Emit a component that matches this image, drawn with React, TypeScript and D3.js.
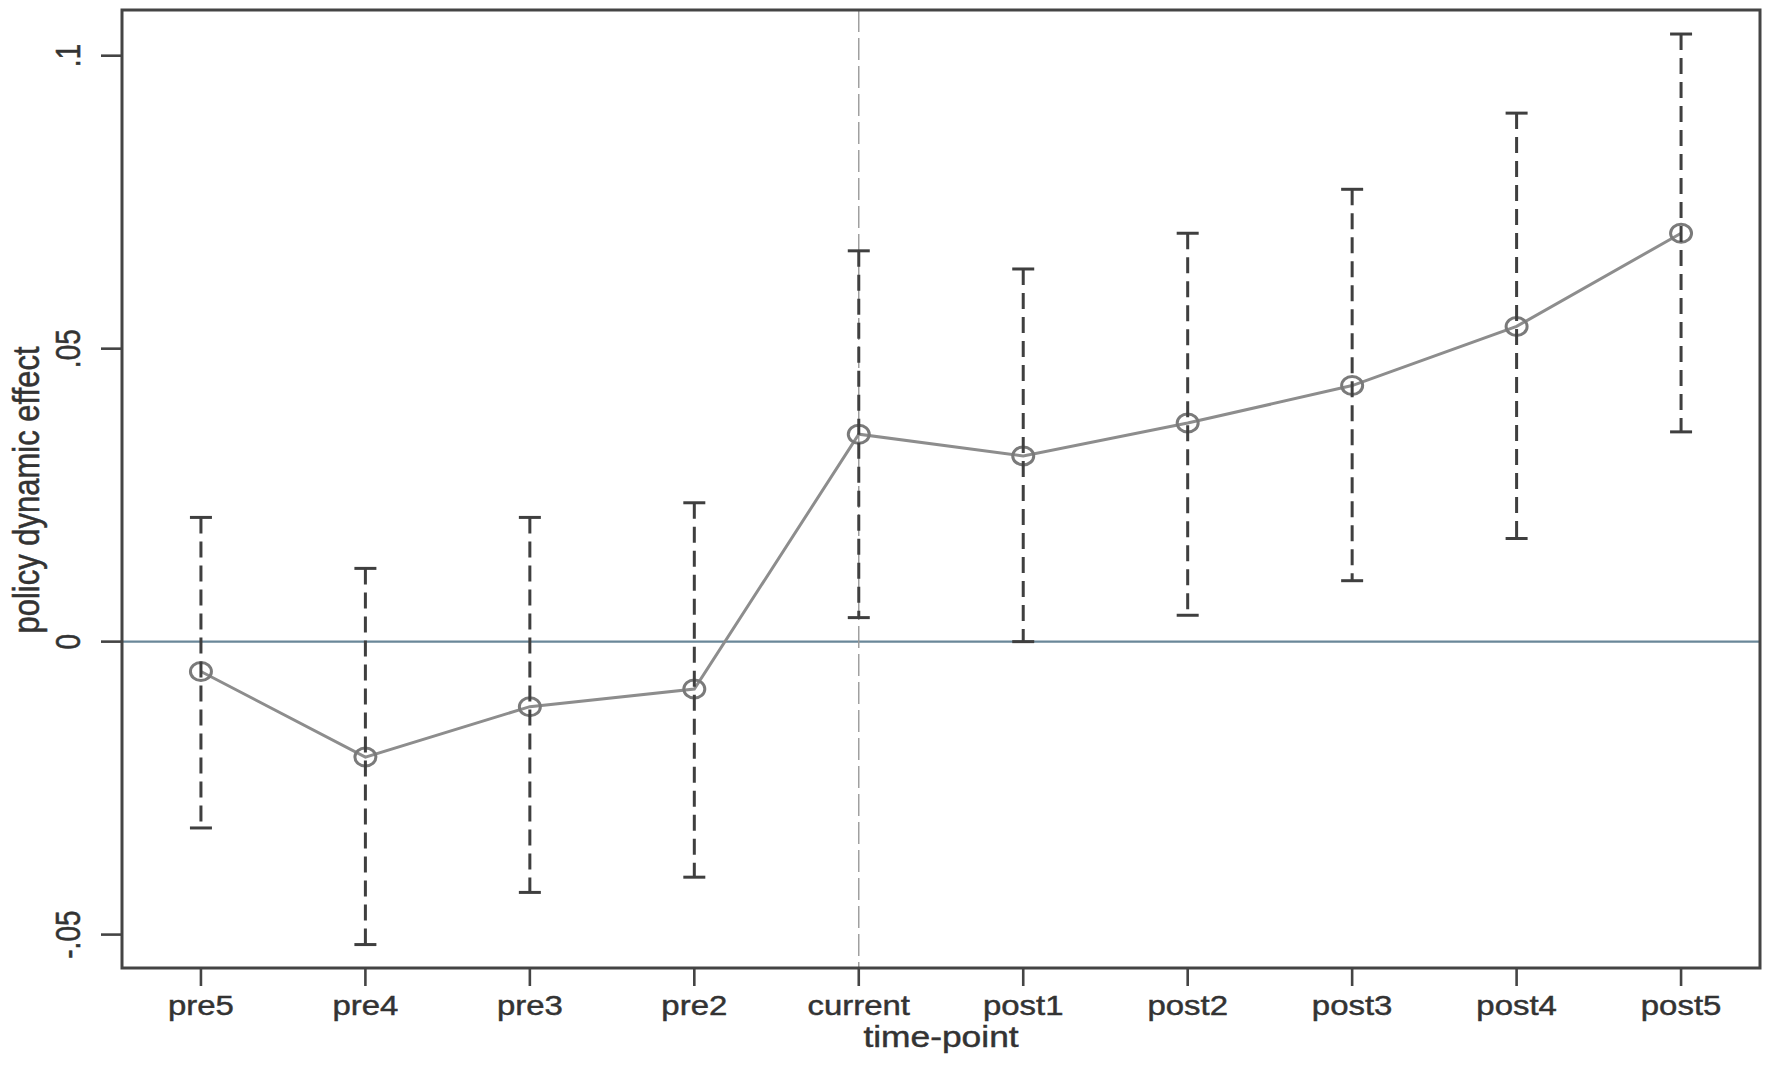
import React from "react";
import * as d3 from "d3";

const categories = ["pre5", "pre4", "pre3", "pre2", "current", "post1", "post2", "post3", "post4", "post5"];
const estimates = [-0.0051, -0.0197, -0.0111, -0.0081, 0.0354, 0.0317, 0.0373, 0.0437, 0.0538, 0.0697];
const upperCI = [0.0212, 0.0125, 0.0212, 0.0237, 0.0667, 0.0636, 0.0697, 0.0772, 0.0902, 0.1037];
const lowerCI = [-0.0318, -0.0517, -0.0428, -0.0402, 0.0041, 0.0000, 0.0045, 0.0104, 0.0176, 0.0358];
const yTicks = [-0.05, 0, 0.05, 0.1];
const yTickLabels = ["-.05", "0", ".05", ".1"];
const xTitle = "time-point";
const yTitle = "policy dynamic effect";

const W = 1771;
const H = 1070;
const left = 122, right = 1760, top = 10, bottom = 968;
const SX = 1.22; // horizontal stretch of the reference text

export default function App() {
  const x = d3.scalePoint<string>().domain(categories).range([left, right]).padding(0.48);
  const y = d3.scaleLinear().domain([-0.0557, 0.1078]).range([bottom, top]);

  const line = d3
    .line<number>()
    .x((_, i) => x(categories[i]) as number)
    .y((d) => y(d));

  const font = "'Liberation Sans', Arial, Helvetica, sans-serif";
  const textFill = "#333";
  const textStroke = { stroke: "#333", strokeWidth: 0.45 };
  const xRef = x("current") as number;

  return (
    <svg
      width={W}
      height={H}
      viewBox={`0 0 ${W} ${H}`}
      style={{ position: "absolute", left: 0, top: 0, background: "#fff" }}
    >
      <rect x={0} y={0} width={W} height={H} fill="#fff" />
      {/* zero line */}
      <line x1={left} x2={right} y1={y(0)} y2={y(0)} stroke="#6a8799" strokeWidth={2.4} />
      {/* vertical reference line at current */}
      <line x1={xRef} x2={xRef} y1={top} y2={bottom} stroke="#9a9a9a" strokeWidth={1.4} strokeDasharray="22,6" />

      {/* connecting line */}
      <path d={line(estimates) || ""} fill="none" stroke="#8d8d8d" strokeWidth={3} />

      {/* markers */}
      {estimates.map((v, i) => (
        <ellipse
          key={"m" + i}
          cx={x(categories[i]) as number}
          cy={y(v)}
          rx={10.5}
          ry={9}
          fill="none"
          stroke="#7a7a7a"
          strokeWidth={3}
        />
      ))}

      {/* error bars */}
      {categories.map((c, i) => {
        const cx = x(c) as number;
        const yu = y(upperCI[i]);
        const yl = y(lowerCI[i]);
        return (
          <g key={"e" + i} stroke="#3f3f3f" strokeWidth={3}>
            <line x1={cx} x2={cx} y1={yu} y2={yl} strokeDasharray="16,8" />
            <line x1={cx - 11} x2={cx + 11} y1={yu} y2={yu} />
            <line x1={cx - 11} x2={cx + 11} y1={yl} y2={yl} />
          </g>
        );
      })}

      {/* frame */}
      <rect x={left} y={top} width={right - left} height={bottom - top} fill="none" stroke="#444" strokeWidth={3} />

      {/* y axis ticks and labels */}
      {yTicks.map((t, i) => (
        <g key={"yt" + i}>
          <line x1={left - 21} x2={left} y1={y(t)} y2={y(t)} stroke="#444" strokeWidth={2.6} />
          <text
            transform={`translate(${80},${y(t)}) scale(${SX},1) rotate(-90)`}
            textAnchor="middle"
            fontFamily={font}
            fontSize={28}
            fill={textFill}
            {...textStroke}
          >
            {yTickLabels[i]}
          </text>
        </g>
      ))}

      {/* x axis ticks and labels */}
      {categories.map((c, i) => {
        const cx = x(c) as number;
        return (
          <g key={"xt" + i}>
            <line x1={cx} x2={cx} y1={bottom} y2={bottom + 18} stroke="#444" strokeWidth={2.6} />
            <text
              transform={`translate(${cx},${1015}) scale(${SX},1)`}
              textAnchor="middle"
              fontFamily={font}
              fontSize={27}
              fill={textFill}
              {...textStroke}
            >
              {c}
            </text>
          </g>
        );
      })}

      {/* axis titles */}
      <text
        transform={`translate(${(left + right) / 2},${1047}) scale(${SX},1)`}
        textAnchor="middle"
        fontFamily={font}
        fontSize={29}
        fill={textFill}
        {...textStroke}
      >
        {xTitle}
      </text>
      <text
        transform={`translate(${39},${490}) scale(${SX},1) rotate(-90)`}
        textAnchor="middle"
        fontFamily={font}
        fontSize={31}
        fill={textFill}
        {...textStroke}
      >
        {yTitle}
      </text>
    </svg>
  );
}
